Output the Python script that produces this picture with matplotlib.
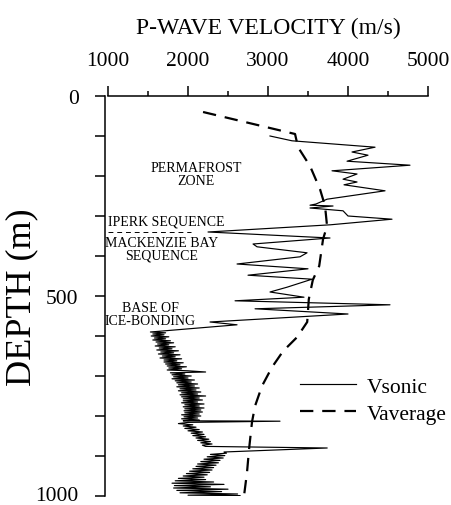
import numpy as np
import matplotlib.pyplot as plt
import matplotlib.transforms as mtransforms

plt.rcParams['font.family'] = ['Liberation Serif', 'DejaVu Serif']

# sonic log velocity (m/s) against depth (m)
sonic_depth = [100, 112, 128, 140, 148, 163, 173, 187, 195, 208, 215, 222, 237, 258, 270, 273,
               275, 280, 287, 300, 308, 322, 340, 355, 370, 377, 392, 402, 420, 432, 448, 458,
               478, 490, 503, 512, 522, 532, 545, 565, 572,
               590, 592, 595, 597, 600, 602, 605, 607, 610, 612, 615, 617, 620, 622, 625, 627,
               630, 632, 635, 637, 640, 642, 645, 647, 650, 652, 655, 657, 660, 662, 665, 667,
               670, 672, 675, 677, 680, 682, 685, 687, 690, 692, 695, 697, 700, 702, 705, 707,
               710, 712, 715, 717, 720, 722, 725, 727, 730, 732, 735, 737, 740, 742, 745, 747,
               750, 752, 755, 757, 760, 762, 765, 767, 770, 772, 775, 777, 780, 782, 785, 787,
               790, 792, 795, 797, 800, 802, 805, 807, 810, 812, 813, 816,
               819, 822, 825, 828, 831, 834, 837, 840, 843, 846, 849, 852, 855, 858, 861, 864,
               867, 870, 873, 876, 880, 890,
               893, 896, 899, 902, 905, 908, 911, 914, 917, 920, 923, 926, 929, 932, 935, 938,
               941, 944, 947, 950, 953, 956, 959, 962, 965, 968, 971, 974, 977, 980, 983, 986,
               989, 992, 995, 998, 999]
sonic_vel = [3025, 3300, 4338, 4050, 4250, 3988, 4775, 3800, 4113, 3938, 4113, 3950, 4463, 3738, 3600, 3525,
             3813, 3525, 3938, 4000, 4550, 3780, 2250, 3775, 2813, 2863, 3488, 3400, 2613, 3500, 2750, 3550,
             3238, 3025, 3450, 2588, 4525, 2838, 4000, 2275, 2613,
             1530, 1720, 1560, 1700, 1540, 1760, 1580, 1720, 1560, 1780, 1600, 1820, 1620, 1760, 1590, 1840,
             1640, 1800, 1610, 1880, 1660, 1820, 1630, 1900, 1680, 1840, 1650, 1920, 1700, 1860, 1700, 1940,
             1720, 1900, 1740, 1980, 1760, 1920, 1740, 2000, 2220, 1780, 1960, 1800, 2040, 1820, 2000, 1800,
             2080, 1840, 2040, 1860, 2120, 1880, 2080, 1860, 2140, 1900, 2100, 1880, 2160, 1920, 2120, 1900,
             2220, 1920, 2140, 1940, 2180, 1940, 2120, 1920, 2200, 1960, 2140, 1940, 2200, 1960, 2160, 1950,
             2180, 1960, 2140, 1920, 2160, 1950, 2120, 1920, 2140, 1940, 3150, 2000,
             1880, 2060, 1940, 2100, 1960, 2140, 2000, 2180, 2040, 2200, 2060, 2220, 2100, 2260, 2120, 2280,
             2160, 2300, 2180, 2220, 3740, 2450,
             2480, 2280, 2460, 2240, 2440, 2200, 2400, 2160, 2380, 2120, 2350, 2100, 2320, 2060, 2300, 2020,
             2270, 1980, 2240, 1940, 2200, 1880, 2220, 1840, 2320, 1800, 2450, 1830, 2280, 1820, 2500, 1860,
             2420, 1900, 2620, 2000, 2650]

# average velocity curve
avg_depth = [40, 95, 128, 175, 233, 275, 325, 358, 425, 460, 508, 565, 603, 638, 678, 725, 775, 815, 883, 940, 1000]
avg_vel = [2188, 3338, 3375, 3525, 3650, 3713, 3738, 3688, 3640, 3560, 3510, 3490, 3363, 3188, 3050, 2925, 2838, 2800, 2763, 2738, 2700]

iperk_base = 340  # boundary between Iperk and Mackenzie Bay sequences

fig = plt.figure(figsize=(4.51, 5.06), dpi=100)
ax = fig.add_axes([0.2395, 0.0178, 0.7095, 0.7905])

ax.plot(sonic_vel, sonic_depth, color='black', lw=0.85, label='Vsonic')
ax.plot(avg_vel, avg_depth, color='black', lw=1.6, ls=(0, (6, 4)), label='Vaverage')
ax.axhline(iperk_base, xmin=0, xmax=0.26, color='black', lw=0.7, ls=(0, (5, 4)))

ax.set_xlim(1000, 5000)
ax.set_ylim(1000, 0)

ax.xaxis.tick_top()
ax.xaxis.set_label_position('top')
ax.set_xticks([1000, 2000, 3000, 4000, 5000])
ax.set_xticks(np.arange(1500, 5000, 1000), minor=True)
ax.set_yticks([0, 500, 1000])
ax.set_yticks(np.arange(100, 1000, 100), minor=True)
ax.tick_params(axis='x', which='major', length=7, width=1.1, labelsize=15.5, pad=12)
ax.tick_params(axis='x', which='minor', length=3.5, width=1.1)
ax.tick_params(axis='y', which='both', length=7, width=1.1, labelsize=15.5, pad=12)

for s in ['right', 'bottom']:
    ax.spines[s].set_visible(False)
for s in ['top', 'left']:
    ax.spines[s].set_linewidth(1.1)
ax.spines['left'].set_position(('outward', 2.2))

# lift the bottom depth label a little so it stays inside the figure
lbl = ax.get_yticklabels()[-1]
lbl.set_transform(lbl.get_transform() + mtransforms.ScaledTranslation(0, 3 / 100, fig.dpi_scale_trans))

ax.set_xlabel('P-WAVE VELOCITY (m/s)', fontsize=17, labelpad=13)
ax.set_ylabel('DEPTH (m)', fontsize=26, labelpad=-2)

ax.text(2100, 195, 'PERMAFROST\nZONE', fontsize=10, ha='center', va='center', linespacing=1.0)
ax.text(1725, 312, 'IPERK SEQUENCE', fontsize=10, ha='center', va='center')
ax.text(1675, 382, 'MACKENZIE BAY\nSEQUENCE', fontsize=10, ha='center', va='center', linespacing=1.0)
ax.text(1525, 545, 'BASE OF\nICE-BONDING', fontsize=10, ha='center', va='center', linespacing=1.05)

ax.legend(loc='upper left', bbox_to_anchor=(0.6, 0.298), frameon=False, fontsize=15.5,
          handlelength=2.6, handletextpad=0.5, labelspacing=0.32, borderpad=0, borderaxespad=0)

fig.savefig('out.png', dpi=100)
